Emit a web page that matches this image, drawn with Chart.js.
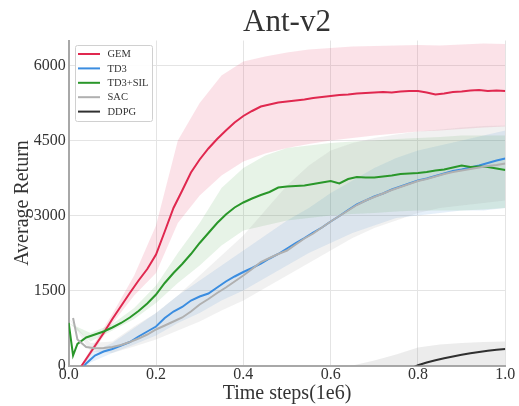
<!DOCTYPE html>
<html><head><meta charset="utf-8">
<script src="https://cdn.jsdelivr.net/npm/chart.js@4/dist/chart.umd.min.js"></script>
<style>html,body{margin:0;padding:0;background:#fff;}canvas{display:block;}</style>
</head><body>
<canvas id="c" width="519" height="406"></canvas>
<script>
// ---- data (x in units of 1e6 time steps) ----
const xs = [0,0.01,0.02,0.04,0.06,0.08,0.10,0.12,0.14,0.16,0.18,0.20,0.22,0.24,0.26,0.28,0.30,0.32,0.34,0.36,0.38,0.40,0.42,0.44,0.46,0.48,0.50,0.52,0.54,0.56,0.58,0.60,0.62,0.64,0.66,0.68,0.70,0.72,0.74,0.76,0.78,0.80,0.82,0.84,0.86,0.88,0.90,0.92,0.94,0.96,0.98,1.00];
const gem  = [-390,-260,-130,130,390,650,930,1190,1450,1700,1930,2220,2680,3150,3500,3860,4120,4340,4530,4700,4860,4990,5090,5180,5220,5260,5280,5300,5320,5350,5370,5390,5410,5420,5440,5450,5460,5470,5460,5480,5490,5490,5460,5420,5440,5470,5480,5500,5510,5490,5500,5490];
const td3  = [-420,-300,-180,40,200,280,330,400,470,580,680,780,950,1080,1170,1300,1380,1440,1560,1680,1780,1870,1950,2040,2140,2230,2340,2450,2550,2660,2760,2880,2990,3110,3220,3300,3380,3440,3520,3580,3640,3700,3740,3790,3840,3890,3920,3960,4000,4050,4100,4140];
const td3sil = [850,200,430,560,620,680,760,850,960,1090,1240,1420,1650,1850,2030,2230,2450,2650,2850,3020,3160,3260,3340,3410,3470,3560,3580,3590,3600,3630,3660,3690,3640,3730,3770,3760,3760,3780,3800,3830,3840,3850,3870,3900,3920,3960,4000,3970,3980,3970,3940,3910];
const sac  = [null,950,520,370,345,350,370,410,470,540,620,720,800,880,960,1080,1220,1330,1450,1560,1680,1800,1930,2070,2150,2230,2300,2420,2540,2640,2760,2880,2990,3100,3210,3300,3370,3440,3510,3570,3630,3690,3730,3780,3830,3870,3900,3930,3960,3990,4010,4040];
const ddpg = [-1500,-1500,-1460,-1420,-1390,-1360,-1330,-1300,-1270,-1240,-1210,-1180,-1150,-1120,-1090,-1060,-1030,-1000,-970,-940,-910,-880,-850,-820,-790,-760,-730,-700,-670,-640,-610,-570,-530,-490,-450,-400,-340,-280,-220,-150,-75,5,60,105,145,180,215,245,270,295,315,330];

// shaded ranges, sampled every 0.05
const xb = [0,0.05,0.10,0.15,0.20,0.25,0.30,0.35,0.40,0.45,0.50,0.55,0.60,0.65,0.70,0.75,0.80,0.85,0.90,0.95,1.00];
const gemLow  = [-390,200,840,1400,1850,2850,3400,3800,4080,4240,4350,4430,4500,4550,4600,4640,4680,4700,4730,4760,4780];
const gemHigh = [-390,320,1030,1800,2800,4500,5250,5800,6080,6180,6260,6320,6350,6380,6390,6400,6410,6400,6420,6440,6430];
const td3Low  = [-420,60,250,420,600,850,1050,1300,1500,1750,2000,2250,2450,2650,2800,2950,3000,3050,3100,3100,3150];
const td3High = [-420,250,450,750,1050,1400,1700,2000,2300,2600,2900,3150,3450,3700,3950,4150,4300,4400,4500,4600,4700];
const silLow  = [850,480,700,930,1250,1650,2000,2400,2700,2800,2900,2950,3000,3030,3050,3080,3100,3100,3100,3120,3150];
const silHigh = [850,650,830,1150,1600,2250,2850,3550,3950,4200,4350,4400,4450,4480,4500,4530,4550,4570,4600,4600,4600];
const sacLow  = [950,280,250,380,520,700,880,1100,1300,1550,1800,2050,2300,2550,2750,2900,3050,3150,3200,3250,3300];
const sacHigh = [950,450,480,780,1050,1400,1800,2200,2600,3100,3600,4000,4300,4450,4550,4620,4680,4720,4760,4790,4800];
const ddpgLow  = [-1900,-1860,-1820,-1780,-1740,-1700,-1650,-1600,-1540,-1460,-1360,-1220,-1000,-800,-650,-450,-300,-200,-150,-100,-50];
const ddpgHigh = [-1100,-1060,-1020,-980,-940,-900,-850,-800,-740,-660,-560,-420,-200,0,100,220,360,420,450,470,480];

const xTicks = [0,0.2,0.4,0.6,0.8,1.0];
const yTicks = [0,1500,3000,4500,6000];
const labels = ['GEM','TD3','TD3+SIL','SAC','DDPG'];

// ---- chart ----
const FONT = "'Liberation Serif','DejaVu Serif','Times New Roman',serif";
const TXT = '#333333';
const series = [
  {label:labels[0], mean:gem,    low:gemLow,  high:gemHigh,  color:'#e0284f', band:'rgba(230,60,100,0.15)'},
  {label:labels[1], mean:td3,    low:td3Low,  high:td3High,  color:'#3b8de0', band:'rgba(60,140,220,0.13)'},
  {label:labels[2], mean:td3sil, low:silLow,  high:silHigh,  color:'#2a972a', band:'rgba(40,150,40,0.11)'},
  {label:labels[3], mean:sac,    low:sacLow,  high:sacHigh,  color:'#b0b0b0', band:'rgba(150,150,150,0.13)'},
  {label:labels[4], mean:ddpg,   low:ddpgLow, high:ddpgHigh, color:'#303030', band:'rgba(150,150,150,0.18)'}
];
const pts = (xa, ya) => xa.map((x, i) => ({x: x, y: ya[i]}));
const datasets = [];
series.forEach((s, k) => {
  datasets.push({label:s.label+'_lo', data:pts(xb, s.low), borderWidth:0, pointRadius:0, fill:false, order:20-k, isBand:true, clip:0});
  datasets.push({label:s.label+'_hi', data:pts(xb, s.high), borderWidth:0, pointRadius:0, fill:'-1', backgroundColor:s.band, order:20-k, isBand:true, clip:0});
});
series.forEach((s, k) => {
  datasets.push({label:s.label, data:pts(xs, s.mean), borderColor:s.color, backgroundColor:s.color, borderWidth:2, pointRadius:0, fill:false, order:10-k, tension:0, clip:0});
});

const legendPlugin = {
  id: 'boxLegend',
  afterDraw(chart) {
    const c = chart.ctx;
    const items = chart.data.datasets.filter(d => !d.isBand);
    c.save();
    const bx = 75.5, by = 45.5, bw = 77, bh = 76;
    c.beginPath();
    c.roundRect(bx, by, bw, bh, 2);
    c.fillStyle = 'rgba(255,255,255,0.9)';
    c.fill();
    c.strokeStyle = '#d0d0d0';
    c.lineWidth = 1;
    c.stroke();
    c.font = '10.5px ' + FONT;
    c.textBaseline = 'middle';
    c.textAlign = 'left';
    items.forEach((d, i) => {
      const y = 54 + i * 14.4;
      c.strokeStyle = d.borderColor;
      c.lineWidth = 2;
      c.beginPath();
      c.moveTo(78, y);
      c.lineTo(100, y);
      c.stroke();
      c.fillStyle = TXT;
      c.fillText(d.label, 107.5, y + 0.5);
    });
    c.restore();
  }
};

new Chart(document.getElementById('c'), {
  type: 'line',
  data: {datasets: datasets},
  options: {
    responsive: false,
    animation: false,
    devicePixelRatio: 1,
    layout: {padding: {left: 0, right: 13.7, top: 0, bottom: 0}},
    plugins: {
      legend: {display: false},
      tooltip: {enabled: false},
      title: {display: true, fullSize: false, text: 'Ant-v2', color: TXT, font: {family: FONT, size: 31, weight: 'normal', lineHeight: 1}, padding: {top: 7.3, bottom: 2.2}}
    },
    scales: {
      x: {
        type: 'linear', min: 0, max: 1,
        afterBuildTicks: s => { s.ticks = xTicks.map(v => ({value: v})); },
        afterFit: s => { s.height = 40.5; },
        ticks: {callback: v => Number(v).toFixed(1), color: TXT, font: {family: FONT, size: 16}, padding: 0, maxRotation: 0, autoSkip: false},
        grid: {color: '#e4e4e4', lineWidth: 1, drawTicks: false},
        border: {color: '#a8a8a8', width: 2},
        title: {display: true, text: 'Time steps(1e6)', color: TXT, font: {family: FONT, size: 20}, padding: {top: 0, bottom: 0.7}}
      },
      y: {
        type: 'linear', min: 0, max: 6500,
        afterBuildTicks: s => { s.ticks = yTicks.map(v => ({value: v})); },
        afterFit: s => { s.width = 68.7; },
        ticks: {callback: v => String(v), color: TXT, font: {family: FONT, size: 16}, padding: 3, autoSkip: false},
        grid: {color: '#e4e4e4', lineWidth: 1, drawTicks: false},
        border: {color: '#a8a8a8', width: 2},
        title: {display: true, text: 'Average Return', color: TXT, font: {family: FONT, size: 20}, padding: {top: 11, bottom: 0}}
      }
    }
  },
  plugins: [legendPlugin]
});
</script>
</body></html>
